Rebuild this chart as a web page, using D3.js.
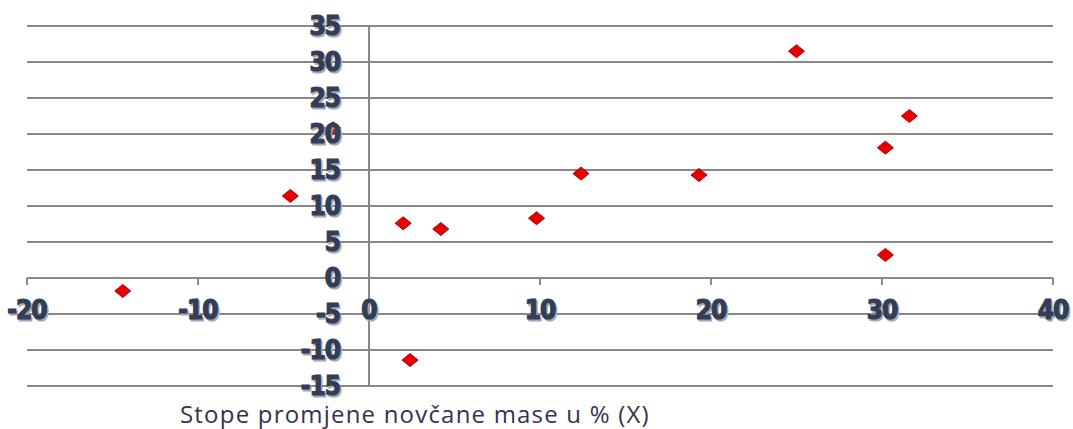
<!DOCTYPE html>
<html>
<head>
<meta charset="utf-8">
<script src="https://cdn.jsdelivr.net/npm/d3@7"></script>
<style>
  html, body { margin: 0; padding: 0; background: #fff; }
  svg { display: block; }
  .lbl { font-family: "DejaVu Sans Condensed", "DejaVu Sans", sans-serif; font-weight: bold; font-size: 26px; fill: #333d55; stroke: #333d55; stroke-width: 1.2px; font-stretch: condensed; letter-spacing: -1px; }
  .shadow { fill: #a4aab5; stroke: #a4aab5; }
  .title { font-family: "Open Sans", sans-serif; font-size: 24px; letter-spacing: 1.2px; fill: #3a3050; }
</style>
</head>
<body>
<svg id="chart" width="1073" height="429"></svg>
<script>
const xVals = [-14.4, -4.6, -2.1, 2.0, 4.2, 2.4, 9.8, 12.4, 19.3, 25.0, 31.6, 30.2, 30.2];
const yVals = [-1.8, 11.4, 20.8, 7.6, 6.8, -11.4, 8.3, 14.5, 14.3, 31.5, 22.5, 18.1, 3.2];
const xTicks = [-20, -10, 0, 10, 20, 30, 40];
const yTicks = [35, 30, 25, 20, 15, 10, 5, 0, -5, -10, -15];
const xTitle = "Stope promjene novčane mase u % (X)";

const svg = d3.select("#chart");
const x = d3.scaleLinear().domain([-20, 40]).range([27, 1053]);
const y = d3.scaleLinear().domain([-15, 35]).range([386, 26]);

// horizontal gridlines
svg.append("g").selectAll("line").data(yTicks).join("line")
  .attr("x1", x(-20)).attr("x2", x(40))
  .attr("y1", d => y(d)).attr("y2", d => y(d))
  .attr("stroke", "#888").attr("stroke-width", 2);

// vertical axis line at x=0
svg.append("line")
  .attr("x1", x(0)).attr("x2", x(0))
  .attr("y1", y(35)).attr("y2", y(-15))
  .attr("stroke", "#888").attr("stroke-width", 2);

// x-axis ticks at y=0
svg.append("g").selectAll("line").data(xTicks).join("line")
  .attr("x1", d => x(d)).attr("x2", d => x(d))
  .attr("y1", y(0)).attr("y2", y(0) + 7)
  .attr("stroke", "#888").attr("stroke-width", 2);

// points (drawn before labels; one sits under the "20" label)
const diamond = "M-8,0L0,-6.5L8,0L0,6.5Z";
svg.append("g").selectAll("path").data(xVals.map((v, i) => [v, yVals[i]])).join("path")
  .attr("d", diamond)
  .attr("transform", d => `translate(${x(d[0])},${y(d[1])})`)
  .attr("fill", "#e60000").attr("stroke", "#b00000").attr("stroke-width", 1);

// y tick labels
const yl = svg.append("g");
[["shadow", 1.5], ["", 0]].forEach(([cls, off]) => {
  yl.append("g").selectAll("text").data(yTicks).join("text")
    .attr("class", "lbl " + cls)
    .attr("x", 340 + off).attr("y", d => y(d) + off)
    .attr("text-anchor", "end").attr("dominant-baseline", "central")
    .text(d => d);
});

// x tick labels
const xl = svg.append("g");
[["shadow", 1.5], ["", 0]].forEach(([cls, off]) => {
  xl.append("g").selectAll("text").data(xTicks).join("text")
    .attr("class", "lbl " + cls)
    .attr("x", d => x(d) + off).attr("y", 310 + off)
    .attr("text-anchor", "middle").attr("dominant-baseline", "central")
    .text(d => d);
});

svg.append("text").attr("class", "title")
  .attr("x", 180).attr("y", 423)
  .text(xTitle);
</script>
</body>
</html>
